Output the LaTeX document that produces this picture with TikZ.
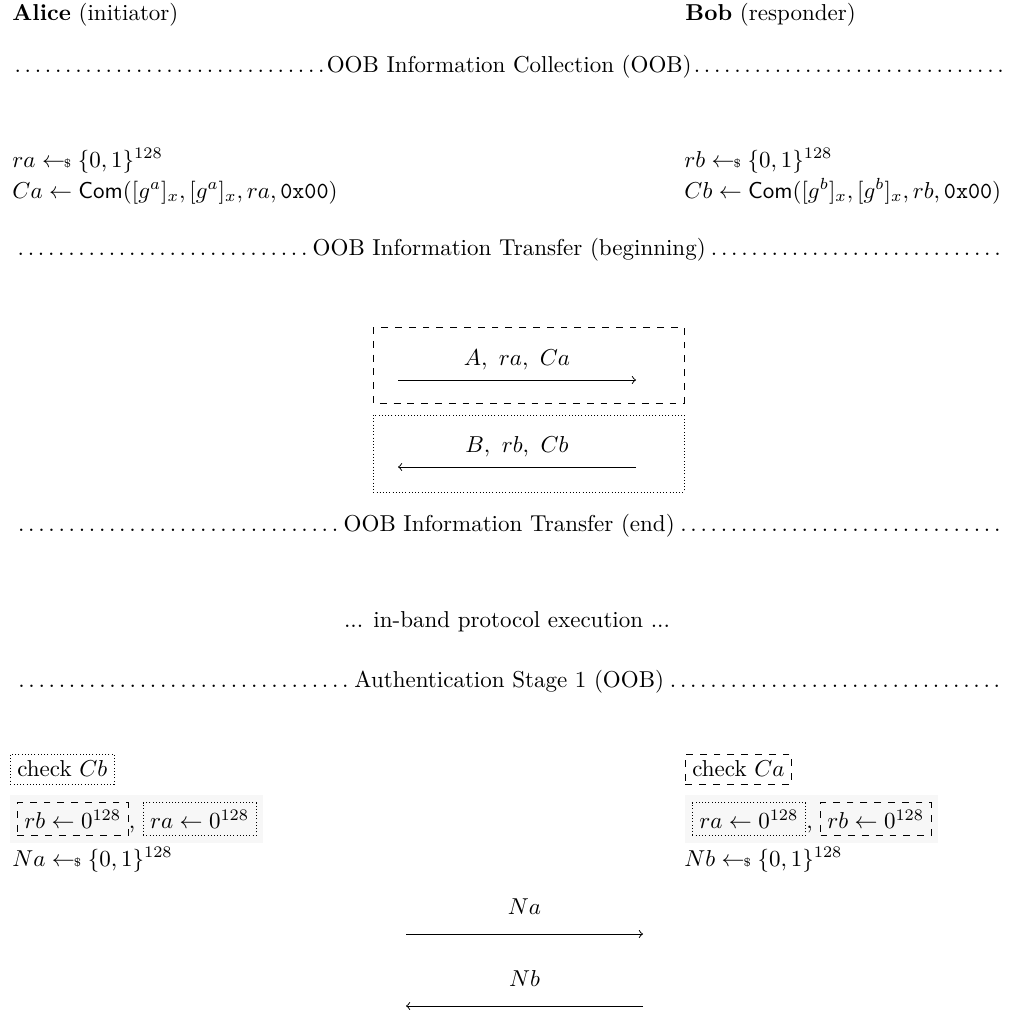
\documentclass[tikz,border=0pt]{standalone}
\usepackage{amsmath,amssymb}
\usetikzlibrary{positioning,fit,backgrounds}

\newcommand{\rnd}{\mathrel{\leftarrow\!\!\mbox{\tiny\$}}}
\newcommand{\Com}{\mathsf{Com}}
\newcommand{\oobrow}[1]{\hbox to 432pt{\dotfill#1\dotfill}}

\begin{document}
\begin{tikzpicture}[x=0.4348pt,y=-0.4348pt,
    txt/.style={anchor=base west,inner sep=0pt},
    dashbox/.style={draw,dashed,inner sep=3pt},
    dotbox/.style={draw,densely dotted,inner sep=3pt},
    msg/.style={->}]
    \useasboundingbox (0,0) rectangle (1014,1011);

    % parties
    \node[txt] (alice) at (12,20) {\textbf{Alice} (initiator)};
    \node[txt] (bob) at (685,20) {\textbf{Bob} (responder)};

    % dotted separators
    \node[txt] (collect) at (12,72) {\oobrow{OOB Information Collection (OOB)}};
    \node[txt] (xferbeg) at (12,255) {\oobrow{OOB Information Transfer (beginning)}};
    \node[txt] (xferend) at (12,531) {\oobrow{OOB Information Transfer (end)}};
    \node[anchor=base,inner sep=0pt] (inband) at (507,627) {... in-band protocol execution ...};
    \node[txt] (auth1) at (12,687) {\oobrow{Authentication Stage 1 (OOB)}};

    % collection
    \node[txt] (ra) at (12,167) {$ra \rnd \{0,1\}^{128}$};
    \node[txt] (Ca) at (12,198) {$Ca \gets \Com([g^a]_x, [g^a]_x, ra, \mathtt{0x00})$};
    \node[txt] (rb) at (684,167) {$rb \rnd \{0,1\}^{128}$};
    \node[txt] (Cb) at (684,198) {$Cb \gets \Com([g^b]_x, [g^b]_x, rb, \mathtt{0x00})$};

    % transfer
    \draw[dashed] (373,327) rectangle (684,403);
    \draw[densely dotted] (373,415) rectangle (684,492);
    \coordinate (sendA) at (398,380);
    \coordinate (recvA) at (636,380);
    \coordinate (sendB) at (636,467);
    \coordinate (recvB) at (398,467);
    \draw[msg] (sendA) -- node[above=1pt] (msgA) {$A,\ ra,\ Ca$} (recvA);
    \draw[msg] (sendB) -- node[above=1pt] (msgB) {$B,\ rb,\ Cb$} (recvB);

    % authentication stage 1
    \node[dotbox,anchor=west] (chkCb) at (10,769) {check $Cb$};
    \node[dashbox,anchor=west] (chkCa) at (685,769) {check $Ca$};

    \node[dashbox,anchor=west] (rbA) at (17,819) {$rb \gets 0^{128}$};
    \node[txt] (cmA) at (rbA.base east) {,};
    \node[dotbox,anchor=base west] (raA) at ([xshift=3pt]cmA.base east) {$ra \gets 0^{128}$};
    \node[dotbox,anchor=west] (raB) at (692,819) {$ra \gets 0^{128}$};
    \node[txt] (cmB) at (raB.base east) {,};
    \node[dashbox,anchor=base west] (rbB) at ([xshift=3pt]cmB.base east) {$rb \gets 0^{128}$};
    \begin{scope}[on background layer]
      \node[fill=gray!6,inner sep=3pt,fit=(rbA)(raA)] (zeroA) {};
      \node[fill=gray!6,inner sep=3pt,fit=(raB)(rbB)] (zeroB) {};
    \end{scope}

    \node[txt] (Na) at (12,866) {$Na \rnd \{0,1\}^{128}$};
    \node[txt] (Nb) at (684,866) {$Nb \rnd \{0,1\}^{128}$};

    \coordinate (sendNa) at (406,934);
    \coordinate (recvNa) at (643,934);
    \coordinate (sendNb) at (643,1006);
    \coordinate (recvNb) at (406,1006);
    \draw[msg] (sendNa) -- node[above=5pt] (msgNa) {$Na$} (recvNa);
    \draw[msg] (sendNb) -- node[above=5pt] (msgNb) {$Nb$} (recvNb);
  \end{tikzpicture}
\end{document}
